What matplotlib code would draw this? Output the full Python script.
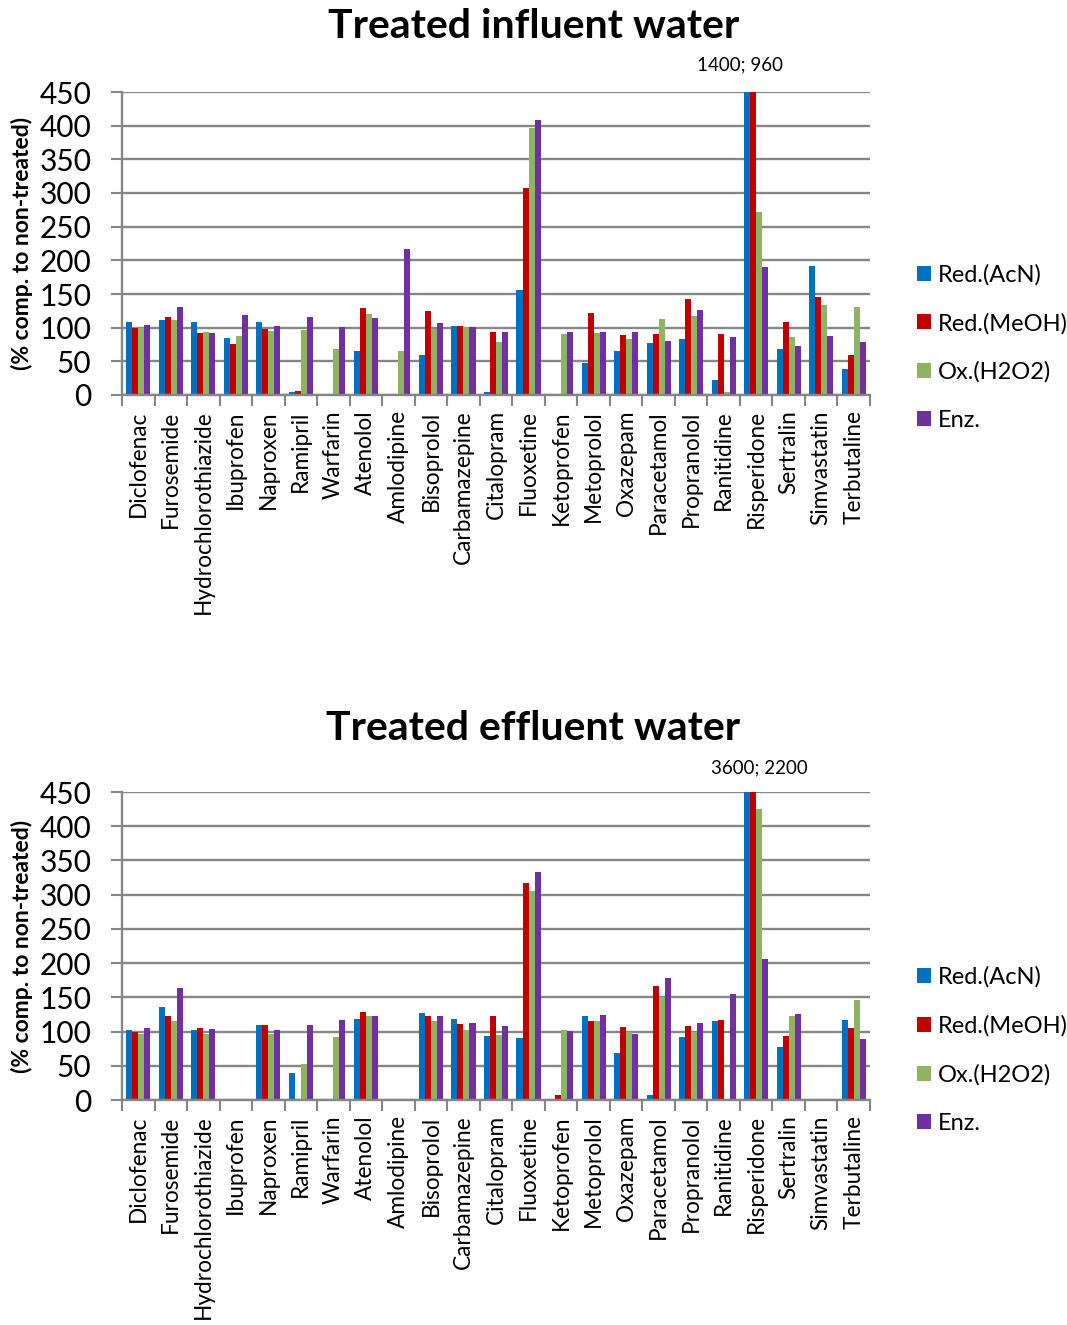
import numpy as np
import matplotlib
matplotlib.use("Agg")
import matplotlib.pyplot as plt
from matplotlib.patches import Patch

plt.rcParams['font.family'] = ['Lato', 'DejaVu Sans']

categories = ["Diclofenac", "Furosemide", "Hydrochlorothiazide", "Ibuprofen", "Naproxen",
              "Ramipril", "Warfarin", "Atenolol", "Amlodipine", "Bisoprolol", "Carbamazepine",
              "Citalopram", "Fluoxetine", "Ketoprofen", "Metoprolol", "Oxazepam", "Paracetamol",
              "Propranolol", "Ranitidine", "Risperidone", "Sertralin", "Simvastatin", "Terbutaline"]
series_names = ["Red.(AcN)", "Red.(MeOH)", "Ox.(H2O2)", "Enz."]
nan = np.nan

influent_acn = [109, 112, 109, 85, 108, 5, nan, 66, nan, 59, 103, 5, 156, nan, 48, 66, 77, 83, 22, 1400, 68, 191, 38]
influent_meoh = [100, 116, 92, 75, 98, 6, nan, 129, nan, 125, 102, 94, 307, nan, 122, 89, 90, 142, 91, 960, 108, 146, 59]
influent_h2o2 = [100, 112, 94, 87, 95, 97, 68, 120, 66, 98, 101, 78, 397, 90, 92, 83, 113, 118, 5, 272, 86, 133, 130]
influent_enz = [104, 130, 92, 119, 102, 116, 101, 114, 217, 107, 101, 93, 409, 94, 94, 93, 80, 126, 86, 190, 73, 87, 79]

effluent_acn = [102, 136, 102, nan, 109, 39, nan, 119, nan, 127, 119, 94, 90, nan, 123, 68, 8, 92, 115, 3600, 78, nan, 117]
effluent_meoh = [100, 122, 105, nan, 109, nan, nan, 128, nan, 122, 111, 122, 317, 7, 116, 106, 166, 108, 117, 2200, 94, nan, 105]
effluent_h2o2 = [96, 116, 96, nan, 97, 53, 92, 122, nan, 115, 102, 95, 305, 102, 116, 100, 150, 100, nan, 425, 123, nan, 146]
effluent_enz = [105, 163, 104, nan, 103, 110, 117, 122, nan, 123, 112, 108, 333, 101, 124, 97, 178, 112, 155, 206, 125, nan, 89]

yticks = [0, 50, 100, 150, 200, 250, 300, 350, 400, 450]
titles = ["Treated influent water", "Treated effluent water"]
notes = ["1400; 960", "3600; 2200"]

colors = ["#0070C0", "#C00000", "#8DB460", "#7030A0"]
grid_c = "#868686"

W, H = 1067, 1325
fig = plt.figure(figsize=(W / 100, H / 100), dpi=100)

def fx(px):
    return px / W

def fy(py):
    return 1 - py / H

panels = [
    dict(top=92, bottom=395, data=[influent_acn, influent_meoh, influent_h2o2, influent_enz],
         title_y=27, note_x=740, note_y=65, ylab_y=243, leg_y=347.5),
    dict(top=792, bottom=1100, data=[effluent_acn, effluent_meoh, effluent_h2o2, effluent_enz],
         title_y=728, note_x=759, note_y=768, ylab_y=946, leg_y=1050),
]

x = np.arange(len(categories))
bw = 0.185

for k, p in enumerate(panels):
    ax = fig.add_axes([fx(122), fy(p["bottom"]), fx(870) - fx(122), fy(p["top"]) - fy(p["bottom"])])
    for j, vals in enumerate(p["data"]):
        ax.bar(x + (j - 1.5) * bw, np.array(vals, dtype=float), width=bw, color=colors[j],
               linewidth=0, zorder=3, label=series_names[j])
    ax.set_xlim(-0.5, len(categories) - 0.5)
    ax.set_ylim(0, 450)
    ax.set_yticks(yticks)
    ax.tick_params(axis='y', labelsize=21.5, length=8, width=1.5, color=grid_c, pad=14, direction='out')
    ax.yaxis.grid(True, color=grid_c, linewidth=1.7, zorder=1)
    ax.set_axisbelow(True)
    ax.set_xticks(x)
    ax.set_xticklabels(categories, rotation=90, fontsize=16.3)
    ax.set_xticks(np.arange(len(categories) + 1) - 0.5, minor=True)
    ax.tick_params(axis='x', which='major', length=0, pad=11)
    ax.tick_params(axis='x', which='minor', length=8, width=1.5, color=grid_c, direction='out')
    for s in ["top", "right"]:
        ax.spines[s].set_visible(False)
    for s in ["left", "bottom"]:
        ax.spines[s].set_color(grid_c)
        ax.spines[s].set_linewidth(1.7)
    ax.spines["bottom"].set_zorder(4)

    fig.text(0.5, fy(p["title_y"]), titles[k], ha='center', va='center', fontsize=29.5, fontweight='bold')
    fig.text(fx(p["note_x"]), fy(p["note_y"]), notes[k], ha='center', va='center', fontsize=13.5)
    fig.text(fx(22), fy(p["ylab_y"]), "(% comp. to non-treated)", rotation=90, ha='center',
             va='center', fontsize=16.5, fontweight='bold')
    handles = [Patch(facecolor=c, edgecolor='none') for c in colors]
    fig.legend(handles, series_names, loc='center left', bbox_to_anchor=(fx(917), fy(p["leg_y"])),
               frameon=False, fontsize=17, labelspacing=1.15, handlelength=0.6, handleheight=0.6,
               handletextpad=0.3, borderpad=0, borderaxespad=0)

fig.savefig("out.png", dpi=100)
